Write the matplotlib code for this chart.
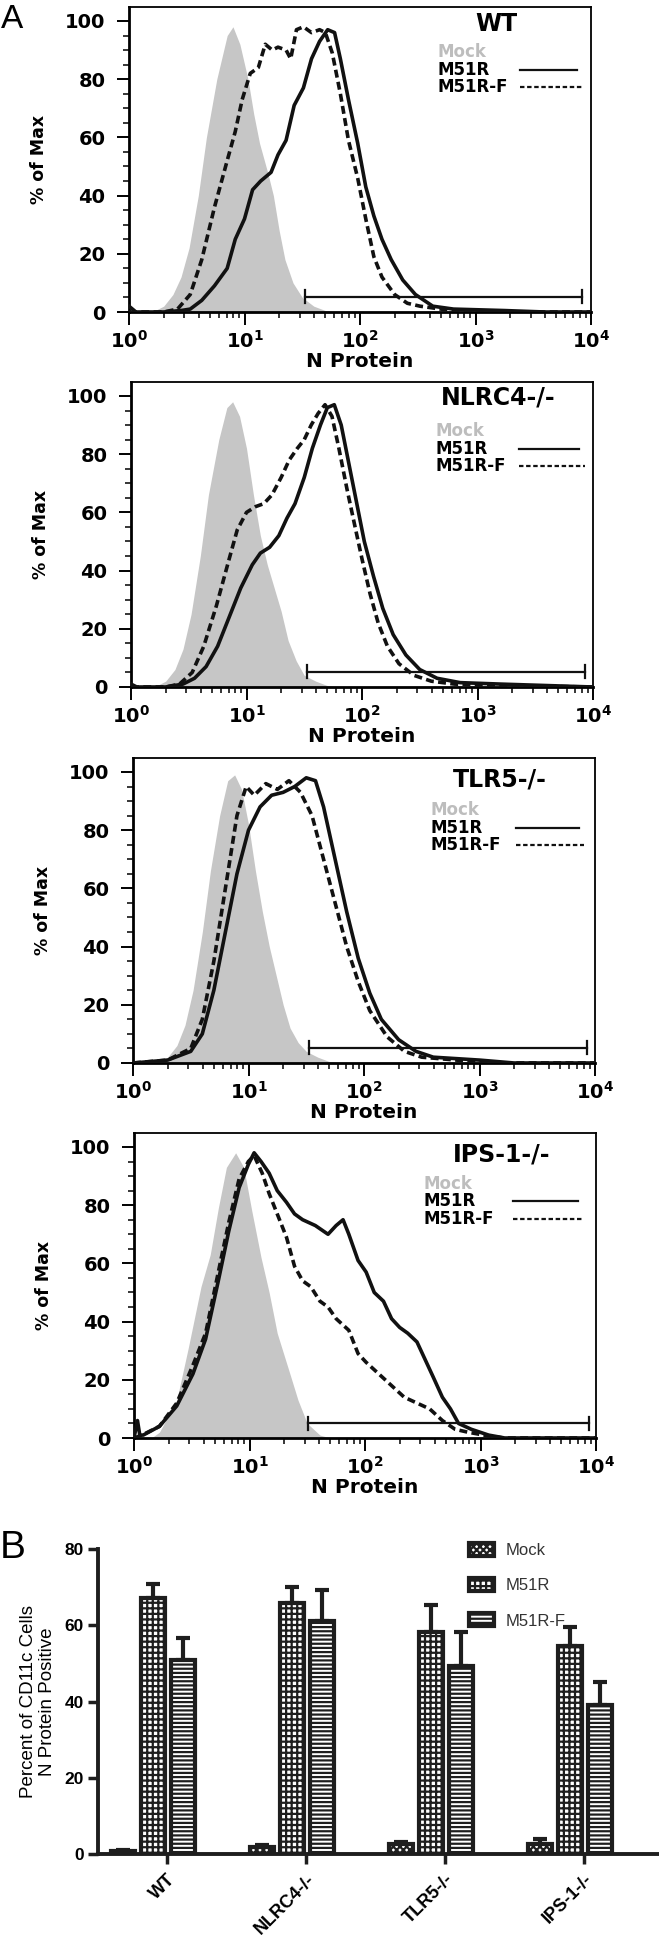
import matplotlib
matplotlib.use("Agg")
import matplotlib.pyplot as plt
import numpy as np
from matplotlib.ticker import FixedLocator, LogLocator, NullFormatter

plt.rcParams["font.family"] = ["DejaVu Sans"]
plt.rcParams["mathtext.fontset"] = "dejavusans"
plt.rcParams["hatch.linewidth"] = 1.6

# ── Histogram data (x in decades, log10 of N Protein; y = % of Max) ───────────
wt_mock_x = [0.0, 0.2, 0.3, 0.38, 0.45, 0.52, 0.6, 0.67, 0.76, 0.85, 0.9, 0.96, 1.03, 1.08, 1.13, 1.2, 1.25, 1.3, 1.35, 1.42, 1.5, 1.6, 1.7, 1.8]
wt_mock_y = [0, 0, 2, 6, 12, 22, 40, 60, 80, 95, 98, 92, 80, 68, 58, 48, 40, 28, 18, 10, 5, 2, 0.5, 0]
wt_m51r_x = [0.0, 0.03, 0.06, 0.3, 0.45, 0.53, 0.63, 0.74, 0.85, 0.92, 1.0, 1.07, 1.14, 1.23, 1.29, 1.36, 1.43, 1.51, 1.58, 1.65, 1.72, 1.78, 1.83, 1.9, 1.98, 2.05, 2.12, 2.19, 2.27, 2.37, 2.48, 2.63, 2.81, 3.25, 3.6, 4.0]
wt_m51r_y = [2, 1, 0, 0, 0.5, 1, 4, 9, 15, 25, 32, 42, 45, 48, 54, 59, 71, 77, 87, 93, 97, 96, 87, 73, 58, 43, 33, 25, 18, 11, 6, 2, 1, 0.5, 0, 0]
wt_m51rf_x = [0.0, 0.3, 0.42, 0.53, 0.63, 0.74, 0.85, 0.92, 0.98, 1.05, 1.12, 1.18, 1.24, 1.29, 1.36, 1.4, 1.45, 1.51, 1.58, 1.65, 1.7, 1.76, 1.83, 1.9, 1.98, 2.05, 2.12, 2.19, 2.3, 2.41, 2.52, 2.7, 2.9, 4.0]
wt_m51rf_y = [0, 0, 1, 6, 18, 36, 52, 62, 73, 82, 84, 92, 90, 91, 90, 87, 97, 98, 96, 97, 96, 89, 75, 59, 46, 32, 19, 12, 6, 3, 2, 1, 0, 0]

nl_mock_x = [0.0, 0.2, 0.3, 0.38, 0.45, 0.52, 0.6, 0.67, 0.76, 0.83, 0.88, 0.94, 1.0, 1.06, 1.12, 1.18, 1.24, 1.3, 1.36, 1.43, 1.5, 1.6, 1.7, 1.8]
nl_mock_y = [0, 0, 2, 6, 13, 25, 45, 66, 85, 96, 98, 93, 82, 66, 52, 42, 34, 26, 16, 9, 4, 2, 0.5, 0]
nl_m51r_x = [0.0, 0.05, 0.3, 0.45, 0.55, 0.65, 0.75, 0.85, 0.95, 1.05, 1.12, 1.2, 1.28, 1.35, 1.42, 1.5, 1.57, 1.64, 1.7, 1.76, 1.82, 1.88, 1.95, 2.02, 2.1, 2.18, 2.27, 2.38, 2.5, 2.65, 2.85, 3.2, 3.6, 4.0]
nl_m51r_y = [1, 0, 0, 1, 3, 7, 14, 24, 34, 42, 46, 48, 52, 58, 63, 72, 82, 90, 96, 97, 90, 78, 64, 50, 38, 27, 18, 11, 6, 3, 1.5, 1, 0.5, 0]
nl_m51rf_x = [0.0, 0.3, 0.42, 0.53, 0.63, 0.74, 0.85, 0.92, 1.0, 1.08, 1.15, 1.22, 1.3, 1.37, 1.44, 1.5, 1.56, 1.62, 1.68, 1.74, 1.8, 1.87, 1.94, 2.0, 2.07, 2.14, 2.22, 2.32, 2.45, 2.6, 2.8, 3.1, 4.0]
nl_m51rf_y = [0, 0, 1, 5, 14, 28, 44, 54, 60, 62, 63, 66, 72, 78, 82, 85, 90, 94, 97, 93, 82, 68, 55, 44, 32, 22, 14, 8, 4, 2, 1, 0.5, 0]

tl_mock_x = [0.0, 0.2, 0.3, 0.38, 0.45, 0.52, 0.6, 0.67, 0.75, 0.82, 0.88, 0.94, 1.0, 1.06, 1.12, 1.18, 1.24, 1.3, 1.36, 1.43, 1.5, 1.6, 1.7, 1.8]
tl_mock_y = [0, 0, 2, 6, 13, 25, 45, 66, 85, 97, 99, 94, 82, 66, 52, 40, 30, 20, 12, 7, 4, 2, 0.5, 0]
tl_m51r_x = [0.0, 0.3, 0.5, 0.6, 0.7, 0.8, 0.9, 1.0, 1.1, 1.2, 1.3, 1.4, 1.5, 1.58, 1.65, 1.75, 1.85, 1.95, 2.05, 2.15, 2.3, 2.45, 2.6, 3.0, 3.3, 4.0]
tl_m51r_y = [0, 1, 4, 10, 25, 45, 65, 80, 88, 92, 93, 95, 98, 97, 88, 70, 52, 36, 24, 15, 8, 4, 2, 1, 0, 0]
tl_m51rf_x = [0.0, 0.3, 0.5, 0.6, 0.7, 0.8, 0.9, 0.98, 1.05, 1.15, 1.25, 1.35, 1.45, 1.55, 1.65, 1.75, 1.85, 1.95, 2.05, 2.2, 2.35, 2.5, 2.8, 3.0, 4.0]
tl_m51rf_y = [0, 1, 5, 15, 35, 60, 85, 95, 92, 96, 94, 97, 93, 85, 70, 55, 40, 28, 18, 9, 4, 2, 1, 0, 0]

ip_mock_x = [0.0, 0.15, 0.22, 0.37, 0.47, 0.58, 0.66, 0.73, 0.8, 0.88, 0.95, 1.02, 1.1, 1.17, 1.24, 1.35, 1.42, 1.5, 1.61, 1.7]
ip_mock_y = [0, 0, 2, 13, 31, 52, 63, 79, 93, 98, 93, 78, 62, 50, 36, 22, 13, 5, 1, 0]
ip_m51r_x = [0.0, 0.03, 0.05, 0.08, 0.22, 0.37, 0.51, 0.62, 0.73, 0.82, 0.91, 0.99, 1.04, 1.1, 1.17, 1.24, 1.32, 1.39, 1.46, 1.57, 1.68, 1.75, 1.81, 1.86, 1.94, 2.01, 2.08, 2.16, 2.23, 2.3, 2.37, 2.45, 2.52, 2.59, 2.67, 2.74, 2.81, 2.92, 3.07, 3.21, 4.0]
ip_m51r_y = [0, 6, 1, 1, 4, 11, 22, 34, 54, 71, 86, 94, 98, 95, 91, 85, 81, 77, 75, 73, 70, 73, 75, 70, 61, 57, 50, 47, 41, 38, 36, 33, 27, 21, 14, 10, 5, 3, 1, 0, 0]
ip_m51rf_x = [0.0, 0.07, 0.22, 0.37, 0.51, 0.62, 0.73, 0.82, 0.91, 0.99, 1.04, 1.11, 1.17, 1.24, 1.32, 1.39, 1.46, 1.53, 1.61, 1.68, 1.75, 1.86, 1.94, 2.01, 2.12, 2.23, 2.34, 2.45, 2.56, 2.67, 2.78, 2.89, 3.03, 3.2, 4.0]
ip_m51rf_y = [0, 1, 4, 12, 25, 36, 57, 74, 89, 95, 97, 91, 84, 77, 69, 59, 54, 52, 47, 45, 41, 37, 29, 26, 22, 18, 14, 12, 10, 6, 3, 2, 1, 0, 0]

panel_names = ["WT", "NLRC4-/-", "TLR5-/-", "IPS-1-/-"]
gate_lo = [1.52, 1.52, 1.52, 1.51]
gate_hi = [3.92, 3.93, 3.93, 3.94]
gate_y = [5.2, 5.2, 5.2, 5.1]

# ── Bar data (panel B) ────────────────────────────────────────────────────────
groups = ["WT", "NLRC4-/-", "TLR5-/-", "IPS-1-/-"]
mock_mean = [0.8, 1.9, 2.6, 2.7]
mock_err = [0.2, 0.5, 0.6, 1.2]
m51r_mean = [67.2, 65.8, 58.3, 54.6]
m51r_err = [3.7, 4.3, 7.1, 5.0]
m51rf_mean = [50.9, 61.0, 49.4, 39.1]
m51rf_err = [5.8, 8.3, 8.8, 6.0]

W, H = 659, 1935
fig = plt.figure(figsize=(W / 100, H / 100), dpi=100)


def px_axes(left, top, right, bottom):
    return fig.add_axes([left / W, 1 - bottom / H, (right - left) / W, (bottom - top) / H])


GREY = "#c6c6c6"
INK = "#111111"

hist_data = [
    (wt_mock_x, wt_mock_y, wt_m51r_x, wt_m51r_y, wt_m51rf_x, wt_m51rf_y),
    (nl_mock_x, nl_mock_y, nl_m51r_x, nl_m51r_y, nl_m51rf_x, nl_m51rf_y),
    (tl_mock_x, tl_mock_y, tl_m51r_x, tl_m51r_y, tl_m51rf_x, tl_m51rf_y),
    (ip_mock_x, ip_mock_y, ip_m51r_x, ip_m51r_y, ip_m51rf_x, ip_m51rf_y),
]
boxes = [(129, 7, 591, 312), (131, 382, 593, 687), (133, 758, 595, 1063), (134, 1133, 596, 1438)]
# inline legend placement (axes fractions) per panel
title_y = [0.945, 0.95, 0.93, 0.928]
leg_x = [0.668, 0.66, 0.645, 0.626]
leg_y0 = [0.852, 0.838, 0.828, 0.833]
line_x0 = [0.846, 0.84, 0.83, 0.82]
line_x1 = [0.97, 0.97, 0.965, 0.96]

for i, ((l, t, r, b), d) in enumerate(zip(boxes, hist_data)):
    ax = px_axes(l, t, r, b)
    mx, my, sx, sy, fx, fy = d
    ax.fill_between(10 ** np.array(mx), my, 0, color=GREY, lw=0, zorder=1)
    ax.plot(10 ** np.array(sx), sy, color=INK, lw=2.6, zorder=3)
    ax.plot(10 ** np.array(fx), fy, color=INK, lw=2.6, ls=(0, (2.2, 1.2)), zorder=3)
    ax.set_xscale("log")
    ax.set_xlim(1, 1e4)
    ax.set_ylim(0, 104.8)
    ax.set_xticks([1, 10, 100, 1000, 10000])
    ax.set_xticklabels([r"$\mathbf{10^{%d}}$" % k for k in range(5)])
    ax.xaxis.set_minor_locator(LogLocator(base=10, subs=np.arange(2, 10)))
    ax.xaxis.set_minor_formatter(NullFormatter())
    ax.set_yticks([0, 20, 40, 60, 80, 100])
    ax.yaxis.set_minor_locator(FixedLocator(np.arange(5, 105, 5)))
    ax.tick_params(axis="both", which="major", length=9, width=1.4, labelsize=14, direction="out")
    ax.tick_params(axis="y", which="major", pad=8)
    ax.tick_params(axis="x", which="major", pad=4)
    ax.tick_params(axis="both", which="minor", length=4, width=1.1, direction="out")
    for lab in ax.get_yticklabels():
        lab.set_fontweight("bold")
    for sp in ax.spines.values():
        sp.set_linewidth(1.3)
    ax.spines["bottom"].set_linewidth(2.0)
    ax.spines["left"].set_linewidth(2.0)
    ax.set_xlabel("N Protein", fontsize=14.5, fontweight="bold", labelpad=0)
    ax.set_ylabel("% of Max", fontsize=12.5, fontweight="bold")
    ax.yaxis.set_label_coords(-0.175, 0.5)
    # gate marker
    g0, g1, gy = 10 ** gate_lo[i], 10 ** gate_hi[i], gate_y[i]
    ax.plot([g0, g1], [gy, gy], color=INK, lw=1.6, zorder=4)
    for gx in (g0, g1):
        ax.plot([gx, gx], [gy - 2.2, gy + 2.2], color=INK, lw=1.6, zorder=4)
    # sample title + inline legend
    ax.text(0.795, title_y[i], panel_names[i], transform=ax.transAxes, fontsize=17, fontweight="bold",
            ha="center", va="center")
    dy = 0.057
    ax.text(leg_x[i], leg_y0[i], "Mock", transform=ax.transAxes, fontsize=12, fontweight="bold",
            color="#bdbdbd", va="center")
    ax.text(leg_x[i], leg_y0[i] - dy, "M51R", transform=ax.transAxes, fontsize=12, fontweight="bold", va="center")
    ax.text(leg_x[i], leg_y0[i] - 2 * dy, "M51R-F", transform=ax.transAxes, fontsize=12, fontweight="bold",
            va="center")
    ax.plot([line_x0[i], line_x1[i]], [leg_y0[i] - dy] * 2, transform=ax.transAxes, color=INK, lw=1.6)
    ax.plot([line_x0[i], line_x1[i] + 0.012], [leg_y0[i] - 2 * dy] * 2, transform=ax.transAxes, color=INK,
            lw=1.6, ls=(0, (2, 1.2)))

fig.text(1 / W, 1 - 20 / H, "A", fontsize=24, ha="left", va="center", family="Liberation Sans")
fig.text(0 / W, 1 - 1548 / H, "B", fontsize=28, ha="left", va="center", family="Liberation Sans")

# ── Panel B: bar chart ────────────────────────────────────────────────────────
BF = "Liberation Sans"
bx = px_axes(98, 1549, 659, 1854)
pos = np.arange(len(groups))
off, bw = 0.216, 0.17
EDGE = "#1e1e1e"
series = [
    ("Mock", mock_mean, mock_err, -off, "xxxxx"),
    ("M51R", m51r_mean, m51r_err, 0.0, "+++"),
    ("M51R-F", m51rf_mean, m51rf_err, off, "----"),
]
for lab, mean, err, o, hatch in series:
    bx.bar(pos + o, mean, bw, facecolor="white", edgecolor=EDGE, linewidth=3.0, hatch=hatch, label=lab, zorder=2)
    bx.errorbar(pos + o, mean, yerr=[np.zeros(len(err)), err], fmt="none", ecolor=EDGE,
                elinewidth=3.0, capsize=5, capthick=3.0, zorder=1)
bx.set_xlim(-0.396, 3.64)
bx.set_ylim(0, 80)
bx.set_yticks([0, 20, 40, 60, 80])
bx.set_xticks(pos + 0.1)
bx.set_xticklabels(groups, rotation=45, ha="right", rotation_mode="anchor", fontsize=13, fontweight="bold",
                   family=BF)
for lab in bx.get_yticklabels():
    lab.set_fontweight("bold")
    lab.set_family(BF)
bx.tick_params(axis="y", length=7, width=2.5, labelsize=12.5, pad=3, color=EDGE)
bx.tick_params(axis="x", length=7, width=2.5, pad=5, color=EDGE)
for s in ("top", "right"):
    bx.spines[s].set_visible(False)
for s in ("left", "bottom"):
    bx.spines[s].set_linewidth(2.8)
    bx.spines[s].set_color(EDGE)
bx.set_ylabel("Percent of CD11c Cells\nN Protein Positive", fontsize=13.5, linespacing=1.15, family=BF)
bx.yaxis.set_label_coords(-0.075, 0.5)
bx.legend(loc="upper left", bbox_to_anchor=(454 / W, 1 - 1528 / H), bbox_transform=fig.transFigure,
          frameon=False, prop={"family": BF, "size": 12}, handlelength=1.5, handleheight=0.8,
          labelspacing=1.2, handletextpad=0.7, labelcolor="#333333")

fig.savefig("out.png", dpi=100, facecolor="white")
